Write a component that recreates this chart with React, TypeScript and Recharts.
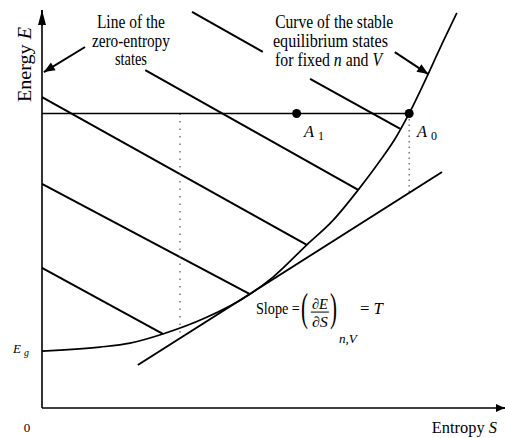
import React from 'react';
import { LineChart, Line, XAxis, YAxis, ReferenceDot } from 'recharts';

const FONT = '"Liberation Serif", "Times New Roman", Times, serif';

// Curve of the stable equilibrium states (Entropy S, Energy E) in chart units
const curveS = [0, 1.25, 1.9, 2.61, 3.52, 4.49, 4.99, 5.72, 6.29, 6.83, 7.3, 7.65, 7.93, 8.34, 8.66, 8.96];
const curveE = [1.43, 1.53, 1.63, 1.86, 2.26, 2.86, 3.29, 4.1, 4.72, 5.48, 6.21, 6.81, 7.4, 8.39, 9.2, 9.93];

// Hatching lines (constant-slope lines ending on the curve)
const hatchStartS = [3.24, 2.23, 5.79, 0, 0, 0];
const hatchStartE = [9.95, 8.49, 8.27, 7.81, 5.63, 3.52];
const hatchEndS = [4.77, 6.83, 7.73, 5.72, 4.49, 2.61];
const hatchEndE = [8.95, 5.48, 7.02, 4.1, 2.86, 1.86];

// Tangent line (slope = T)
const tangentS = [2.07, 8.64];
const tangentE = [1.08, 5.93];

// Horizontal line A1 - A0
const levelE = 7.4;
const pointA1S = 5.5;
const pointA0S = 7.93;

// Dotted verticals
const dotted1S = 2.98;
const dotted1E = [7.4, 1.8];
const dotted2S = 7.93;
const dotted2E = [7.4, 5.4];

// Pointer arrows [startS, startE, tipS, tipE]
const leftArrow = [0.93, 9.07, 0.04, 8.44];
const rightArrow = [7.62, 8.94, 8.34, 8.39];

// Tick labels
const xTicks = [0];
const xTickLabels = ['0'];
const Eg = 1.43;
const yTicks = [Eg];

const toPts = (s: number[], e: number[]) => s.map((v, i) => ({ s: v, e: e[i] }));
const seg = (s0: number, e0: number, s1: number, e1: number) => [
  { s: s0, e: e0 },
  { s: s1, e: e1 },
];

const curveData = toPts(curveS, curveE);
const hatchData = hatchStartS.map((s, i) => seg(s, hatchStartE[i], hatchEndS[i], hatchEndE[i]));
const tangentData = toPts(tangentS, tangentE);
const levelData = seg(0, levelE, pointA0S, levelE);
const dotted1Data = seg(dotted1S, dotted1E[0], dotted1S, dotted1E[1]);
const dotted2Data = seg(dotted2S, dotted2E[0], dotted2S, dotted2E[1]);
const leftArrowData = seg(leftArrow[0], leftArrow[1], leftArrow[2], leftArrow[3]);
const rightArrowData = seg(rightArrow[0], rightArrow[1], rightArrow[2], rightArrow[3]);
const yAxisArrowData = seg(0, 9.6, 0, 10);
const xAxisArrowData = seg(9.8, 0, 10, 0);

const arrowDot = (len: number, hw: number) => (props: any) => {
  const { cx, cy, index, points } = props;
  if (!points || index !== points.length - 1 || index < 1) return <g key={`a-${index}`} />;
  const p0 = points[index - 1];
  const dx = cx - p0.x;
  const dy = cy - p0.y;
  const d = Math.hypot(dx, dy) || 1;
  const ux = dx / d;
  const uy = dy / d;
  const bx = cx - ux * len;
  const by = cy - uy * len;
  return (
    <polygon
      key={`a-${index}`}
      points={`${cx},${cy} ${bx - uy * hw},${by + ux * hw} ${bx + uy * hw},${by - ux * hw}`}
      fill="#000"
      stroke="none"
    />
  );
};

const textShape =
  (content: React.ReactNode, size: number, len: number, anchor: 'start' | 'middle' | 'end' = 'middle') =>
  (p: any) =>
    (
      <text
        x={p.cx}
        y={p.cy}
        fontFamily={FONT}
        fontSize={size}
        textAnchor={anchor}
        textLength={len}
        lengthAdjust="spacingAndGlyphs"
        fill="#000"
      >
        {content}
      </text>
    );

const subLabel = (main: string, sub: string) => (p: any) =>
  (
    <g fontFamily={FONT} fill="#000">
      <text x={p.cx} y={p.cy} fontSize={17} fontStyle="italic" textLength={10} lengthAdjust="spacingAndGlyphs">
        {main}
      </text>
      <text x={p.cx + 14} y={p.cy + 3} fontSize={12} textLength={6} lengthAdjust="spacingAndGlyphs">
        {sub}
      </text>
    </g>
  );

const energyLabel = (p: any) => (
  <text
    x={p.cx}
    y={p.cy}
    transform={`rotate(-90 ${p.cx} ${p.cy})`}
    fontFamily={FONT}
    fontSize={19}
    textAnchor="middle"
    textLength={75}
    lengthAdjust="spacingAndGlyphs"
    fill="#000"
  >
    Energy <tspan fontStyle="italic">E</tspan>
  </text>
);

const slopeShape = (p: any) => {
  const x = p.cx;
  const y = p.cy;
  return (
    <g fontFamily={FONT} fill="#000">
      <text x={x} y={y} fontSize={17} textLength={44} lengthAdjust="spacingAndGlyphs">
        Slope =
      </text>
      <text x={x + 45} y={y + 7} fontSize={40} textLength={7} lengthAdjust="spacingAndGlyphs">
        (
      </text>
      <text x={x + 56} y={y - 5} fontSize={15} fontStyle="italic" textLength={16} lengthAdjust="spacingAndGlyphs">
        ∂E
      </text>
      <line x1={x + 55} x2={x + 73} y1={y - 2} y2={y - 2} stroke="#000" strokeWidth={1} />
      <text x={x + 56} y={y + 13} fontSize={15} fontStyle="italic" textLength={16} lengthAdjust="spacingAndGlyphs">
        ∂S
      </text>
      <text x={x + 74} y={y + 7} fontSize={40} textLength={7} lengthAdjust="spacingAndGlyphs">
        )
      </text>
      <text x={x + 83} y={y + 29} fontSize={12} fontStyle="italic" textLength={18} lengthAdjust="spacingAndGlyphs">
        n,V
      </text>
      <text x={x + 104} y={y} fontSize={17} textLength={23} lengthAdjust="spacingAndGlyphs">
        = <tspan fontStyle="italic">T</tspan>
      </text>
    </g>
  );
};

const XTick = (p: any) => (
  <text x={p.x - 15} y={p.y + 24} fontFamily={FONT} fontSize={13} textAnchor="middle" fill="#000">
    {xTickLabels[xTicks.indexOf(p.payload?.value)] ?? ''}
  </text>
);

const YTick = (p: any) => (
  <g fontFamily={FONT} fill="#000">
    <text x={p.x - 29} y={p.y + 2} fontSize={13} fontStyle="italic">
      E
    </text>
    <text x={p.x - 18} y={p.y + 5} fontSize={10} fontStyle="italic">
      g
    </text>
  </g>
);

const common = {
  dataKey: 'e',
  isAnimationActive: false,
  activeDot: false as const,
  legendType: 'none' as const,
  type: 'linear' as const,
};

export default function App() {
  return (
    <div style={{ position: 'absolute', left: 0, top: 0, width: 505, height: 438, background: '#fff' }}>
      <LineChart width={505} height={438} margin={{ top: 10, right: 0, bottom: 0, left: 0 }}>
        <XAxis
          type="number"
          dataKey="s"
          domain={[0, 10]}
          ticks={xTicks}
          interval={0}
          height={30}
          tickSize={0}
          tickMargin={0}
          tickLine={false}
          tick={<XTick />}
          axisLine={{ stroke: '#000', strokeWidth: 1.6 }}
        />
        <YAxis
          type="number"
          dataKey="e"
          domain={[0, 10]}
          ticks={yTicks}
          interval={0}
          width={42}
          tickSize={0}
          tickMargin={0}
          tickLine={false}
          tick={<YTick />}
          axisLine={{ stroke: '#000', strokeWidth: 1.6 }}
        />

        {hatchData.map((d, i) => (
          <Line key={`h${i}`} {...common} data={d} stroke="#000" strokeWidth={2} dot={false} />
        ))}
        <Line {...common} data={dotted1Data} stroke="#555" strokeWidth={1.2} strokeDasharray="1.5 6" dot={false} />
        <Line {...common} data={dotted2Data} stroke="#555" strokeWidth={1.2} strokeDasharray="1.5 4" dot={false} />
        <Line {...common} data={tangentData} stroke="#000" strokeWidth={2} dot={false} />
        <Line {...common} data={levelData} stroke="#000" strokeWidth={1.5} dot={false} />
        <Line {...common} type="monotone" data={curveData} stroke="#000" strokeWidth={1.7} dot={false} />

        <Line {...common} data={leftArrowData} stroke="#000" strokeWidth={2} dot={arrowDot(11, 4.5)} />
        <Line {...common} data={rightArrowData} stroke="#000" strokeWidth={2} dot={arrowDot(11, 4.5)} />
        <Line {...common} data={yAxisArrowData} stroke="#000" strokeWidth={1.6} dot={arrowDot(15, 4)} />
        <Line {...common} data={xAxisArrowData} stroke="#000" strokeWidth={1.6} dot={arrowDot(9, 4)} />

        <ReferenceDot x={pointA1S} y={levelE} r={4.5} fill="#000" stroke="none" ifOverflow="visible" />
        <ReferenceDot x={pointA0S} y={levelE} r={4.5} fill="#000" stroke="none" ifOverflow="visible" />

        <ReferenceDot x={1.92} y={9.55} ifOverflow="visible" shape={textShape('Line of the', 18, 68)} />
        <ReferenceDot x={1.92} y={9.07} ifOverflow="visible" shape={textShape('zero-entropy', 18, 78)} />
        <ReferenceDot x={1.92} y={8.62} ifOverflow="visible" shape={textShape('states', 18, 32)} />

        <ReferenceDot x={6.31} y={9.55} ifOverflow="visible" shape={textShape('Curve of the stable', 18, 118)} />
        <ReferenceDot x={6.23} y={9.07} ifOverflow="visible" shape={textShape('equilibrium states', 18, 115)} />
        <ReferenceDot
          x={6.19}
          y={8.59}
          ifOverflow="visible"
          shape={textShape(
            <>
              for fixed <tspan fontStyle="italic">n</tspan> and <tspan fontStyle="italic">V</tspan>
            </>,
            18,
            107
          )}
        />

        <ReferenceDot x={5.66} y={6.81} ifOverflow="visible" shape={subLabel('A', '1')} />
        <ReferenceDot x={8.1} y={6.81} ifOverflow="visible" shape={subLabel('A', '0')} />

        <ReferenceDot x={4.62} y={2.36} ifOverflow="visible" shape={slopeShape} />

        <ReferenceDot
          x={8.42}
          y={-0.63}
          ifOverflow="visible"
          shape={textShape(
            <>
              Entropy <tspan fontStyle="italic">S</tspan>
            </>,
            16,
            65,
            'start'
          )}
        />
        <ReferenceDot x={-0.24} y={8.63} ifOverflow="visible" shape={energyLabel} />
      </LineChart>
    </div>
  );
}
